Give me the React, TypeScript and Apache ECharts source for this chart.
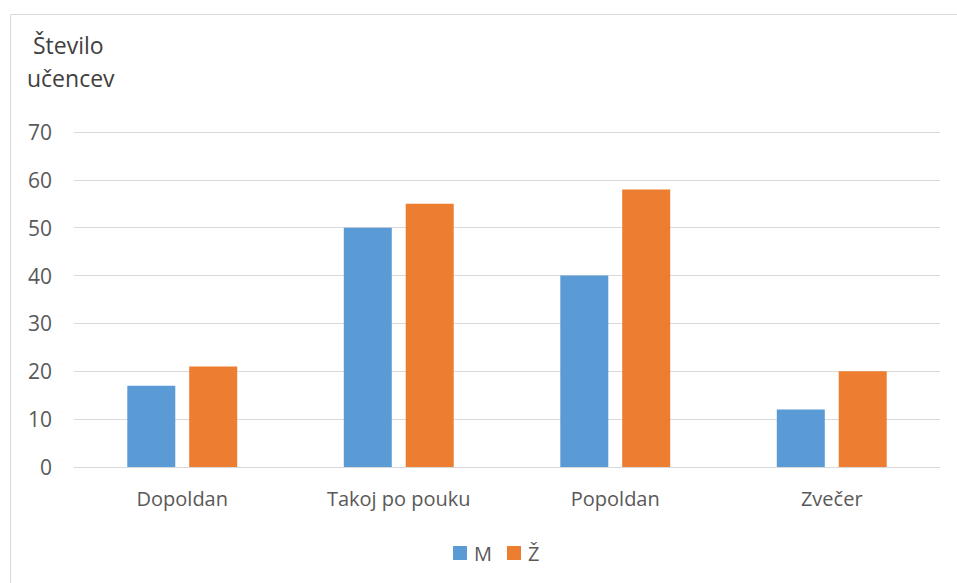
import React, { useEffect, useRef } from "react";
import * as echarts from "echarts";

const categories = ["Dopoldan", "Takoj po pouku", "Popoldan", "Zvečer"];
const seriesM = [17, 50, 40, 12];
const seriesZ = [21, 55, 58, 20];
const seriesNames = ["M", "Ž"];
const axisTitle = " Število\nučencev";

export default function App() {
  const ref = useRef<HTMLDivElement>(null);
  useEffect(() => {
    if (!ref.current) return;
    const chart = echarts.init(ref.current, null, { renderer: "svg" });
    const font = "'Open Sans', 'Noto Sans', sans-serif";
    chart.setOption({
      animation: false,
      backgroundColor: "#ffffff",
      textStyle: { fontFamily: font },
      title: {
        text: axisTitle,
        left: 22,
        top: 23,
        textStyle: { fontSize: 23, fontWeight: "normal", color: "#404040", lineHeight: 33, fontFamily: font },
      },
      graphic: [
        {
          type: "rect",
          shape: { x: 10.5, y: 14.5, width: 1000, height: 700 },
          style: { fill: "none", stroke: "#d9d9d9", lineWidth: 1 },
          silent: true,
        },
      ],
      legend: {
        data: seriesNames,
        top: 538,
        left: 448,
        itemWidth: 14,
        itemHeight: 14,
        itemGap: 15,
        icon: "rect",
        textStyle: { fontSize: 20, color: "#595959", fontFamily: font, padding: [0, 0, 0, 2] },
      },
      grid: { left: 74, right: 17, top: 132, bottom: 116, containLabel: false },
      xAxis: {
        type: "category",
        data: categories,
        axisLine: { lineStyle: { color: "#d9d9d9", width: 1 } },
        axisTick: { show: false },
        axisLabel: { fontSize: 20, color: "#595959", margin: 21, fontFamily: font },
      },
      yAxis: {
        type: "value",
        min: 0,
        max: 70,
        interval: 10,
        axisLine: { show: false },
        axisTick: { show: false },
        axisLabel: { fontSize: 21, color: "#595959", margin: 22, fontFamily: font },
        splitLine: { lineStyle: { color: "#d9d9d9", width: 1 } },
      },
      series: [
        {
          name: seriesNames[0],
          type: "bar",
          data: seriesM,
          barWidth: 48,
          barGap: "29%",
          itemStyle: { color: "#5b9bd5" },
        },
        {
          name: seriesNames[1],
          type: "bar",
          data: seriesZ,
          barWidth: 48,
          barGap: "29%",
          itemStyle: { color: "#ed7d31" },
        },
      ],
    });
    return () => chart.dispose();
  }, []);
  return (
    <div
      ref={ref}
      style={{ position: "absolute", left: 0, top: 0, width: 957, height: 583 }}
    />
  );
}
